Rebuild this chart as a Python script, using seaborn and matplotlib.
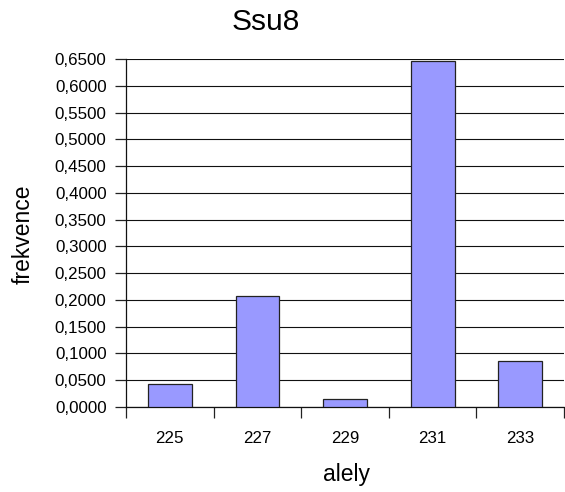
import matplotlib
matplotlib.use("Agg")
import matplotlib.pyplot as plt
import seaborn as sns
import pandas as pd
import numpy as np

alleles = ["225", "227", "229", "231", "233"]
freq = [0.0426, 0.207, 0.0144, 0.646, 0.0857]
yticks = [0.0, 0.05, 0.10, 0.15, 0.20, 0.25, 0.30, 0.35, 0.40, 0.45, 0.50, 0.55, 0.60, 0.65]
ytick_labels = ["0,0000", "0,0500", "0,1000", "0,1500", "0,2000", "0,2500", "0,3000",
                "0,3500", "0,4000", "0,4500", "0,5000", "0,5500", "0,6000", "0,6500"]
title = "Ssu8"
xlabel = "alely"
ylabel = "frekvence"

sns.set_style("white")
plt.rcParams["font.family"] = ["Liberation Sans", "DejaVu Sans"]
plt.rcParams["text.color"] = "black"
plt.rcParams["xtick.color"] = "black"
plt.rcParams["ytick.color"] = "black"

df = pd.DataFrame({"alely": alleles, "frekvence": freq})

fig = plt.figure(figsize=(5.65, 4.92), dpi=100)
ax = fig.add_axes([126 / 565, 1 - 407 / 492, (564 - 126) / 565, (407 - 59) / 492])

sns.barplot(data=df, x="alely", y="frekvence", ax=ax, color="#9999FF",
            saturation=1, width=0.5, edgecolor="#222222", linewidth=0.9, zorder=3)

ax.set_ylim(0, 0.65)
ax.set_xlim(-0.5, len(alleles) - 0.5)
ax.set_yticks(yticks)
ax.set_yticklabels(ytick_labels, fontsize=12.2, color="black")
for y in yticks:
    ax.axhline(y, color="#111111", lw=0.8, zorder=1)

# labels at category centres, tick marks at category boundaries
ax.set_xticks(range(len(alleles)))
ax.set_xticklabels(alleles, fontsize=12.2, color="black")
ax.set_xticks(np.arange(-0.5, len(alleles) + 0.5, 1.0), minor=True)
ax.tick_params(axis="x", which="major", bottom=True, length=0, pad=17)
ax.tick_params(axis="x", which="minor", bottom=True, length=8, width=0.9,
               color="#222222", direction="out")
ax.tick_params(axis="y", which="major", left=True, length=8, width=0.9,
               color="#222222", direction="out", pad=6)

for s in ["top", "right"]:
    ax.spines[s].set_visible(False)
for s in ["left", "bottom"]:
    ax.spines[s].set_color("#111111")
    ax.spines[s].set_linewidth(0.9)

ax.set_xlabel("")
ax.set_ylabel("")
fig.text(265.5 / 565, 1 - 22 / 492, title, fontsize=21.5, ha="center", va="center", color="black")
fig.text(346 / 565, 1 - 475 / 492, xlabel, fontsize=16.5, ha="center", va="center", color="black")
fig.text(23 / 565, 1 - 234 / 492, ylabel, fontsize=16.5, ha="center", va="center",
         rotation=90, color="black")

fig.savefig("out.png", dpi=100)
